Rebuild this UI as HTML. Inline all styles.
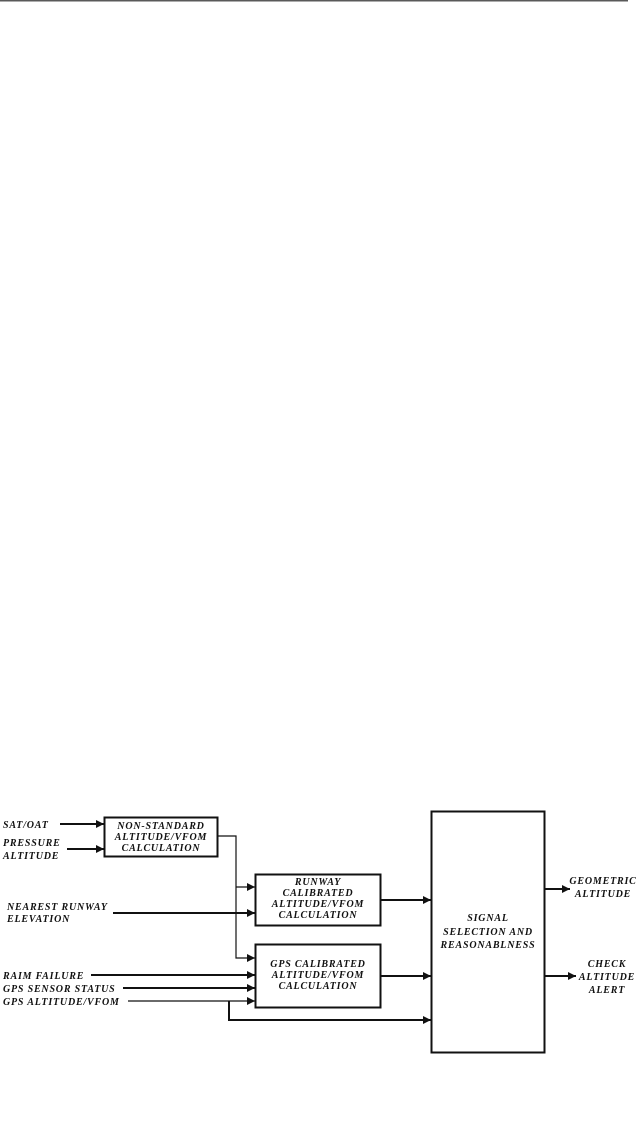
<!DOCTYPE html>
<html><head><meta charset="utf-8"><style>
html,body{margin:0;padding:0;background:#fff;}
svg{display:block;}
text{font-family:"Liberation Serif",serif;font-weight:bold;font-style:italic;font-size:10px;fill:#111;letter-spacing:0.8px;}
</style></head><body>
<svg width="638" height="1147" viewBox="0 0 638 1147" xmlns="http://www.w3.org/2000/svg">
<defs>
<marker id="a" viewBox="0 0 10 10" refX="10" refY="5" markerWidth="10" markerHeight="8" markerUnits="userSpaceOnUse" orient="auto">
<path d="M0,0 L10,5 L0,10 z" fill="#111"/></marker>
</defs>
<line x1="0" y1="0.8" x2="628" y2="0.8" stroke="#222" stroke-width="1.2"/>
<g fill="none" stroke="#111">
<rect x="104.5" y="817.5" width="113" height="39" stroke-width="2"/>
<rect x="255.5" y="874.5" width="125" height="51" stroke-width="2"/>
<rect x="255.5" y="944.5" width="125" height="63" stroke-width="2"/>
<rect x="431.5" y="811.5" width="113" height="241" stroke-width="2"/>
<g stroke-width="2">
<line x1="60" y1="824" x2="104" y2="824" marker-end="url(#a)"/>
<line x1="67" y1="849" x2="104" y2="849" marker-end="url(#a)"/>
<line x1="113" y1="913" x2="255" y2="913" marker-end="url(#a)"/>
<line x1="91" y1="975" x2="255" y2="975" marker-end="url(#a)"/>
<line x1="123" y1="988" x2="255" y2="988" marker-end="url(#a)"/>
<line x1="380" y1="900" x2="431" y2="900" marker-end="url(#a)"/>
<line x1="380" y1="976" x2="431" y2="976" marker-end="url(#a)"/>
<line x1="544" y1="889" x2="570" y2="889" marker-end="url(#a)"/>
<line x1="544" y1="976" x2="576" y2="976" marker-end="url(#a)"/>
<polyline points="229,1001 229,1020 431,1020" marker-end="url(#a)"/>
</g>
<g stroke-width="1.2">
<line x1="128" y1="1001" x2="255" y2="1001" marker-end="url(#a)"/>
<polyline points="217,836 236,836 236,958 255,958" marker-end="url(#a)"/>
<line x1="236" y1="887" x2="255" y2="887" marker-end="url(#a)"/>
</g>
</g>
<text x="3" y="828">SAT/OAT</text>
<text x="3" y="846">PRESSURE</text>
<text x="3" y="859">ALTITUDE</text>
<text x="7" y="910">NEAREST RUNWAY</text>
<text x="7" y="922">ELEVATION</text>
<text x="3" y="979">RAIM FAILURE</text>
<text x="3" y="992">GPS SENSOR STATUS</text>
<text x="3" y="1005">GPS ALTITUDE/VFOM</text>
<g text-anchor="middle">
<text x="161" y="829">NON-STANDARD</text>
<text x="161" y="840">ALTITUDE/VFOM</text>
<text x="161" y="851">CALCULATION</text>
<text x="318" y="885">RUNWAY</text>
<text x="318" y="896">CALIBRATED</text>
<text x="318" y="907">ALTITUDE/VFOM</text>
<text x="318" y="918">CALCULATION</text>
<text x="318" y="967">GPS CALIBRATED</text>
<text x="318" y="978">ALTITUDE/VFOM</text>
<text x="318" y="989">CALCULATION</text>
<text x="488" y="921">SIGNAL</text>
<text x="488" y="935">SELECTION AND</text>
<text x="488" y="948">REASONABLNESS</text>
<text x="603" y="884">GEOMETRIC</text>
<text x="603" y="897">ALTITUDE</text>
<text x="607" y="967">CHECK</text>
<text x="607" y="980">ALTITUDE</text>
<text x="607" y="993">ALERT</text>
</g>
</svg>
</body></html>
